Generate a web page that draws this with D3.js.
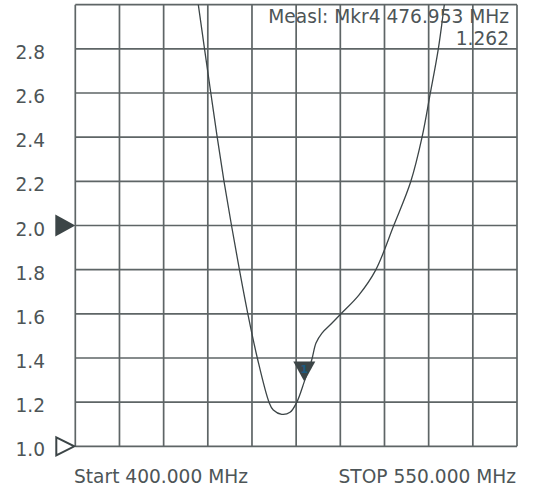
<!DOCTYPE html>
<html>
<head>
<meta charset="utf-8">
<script src="https://cdn.jsdelivr.net/npm/d3@7"></script>
<style>
  html, body { margin: 0; padding: 0; background: #ffffff; }
  svg { display: block; }
  text { font-family: "DejaVu Sans", Verdana, sans-serif; }
</style>
</head>
<body>
<svg id="chart" width="534" height="490"></svg>
<script>
// ---- data ----
const freqMHz = [439.5, 441.77, 443.88, 446.02, 448.19, 450.50, 453.05, 455.73, 458.59, 461.81,
                 465.78, 467.24, 470.09, 472.91, 475.19, 477.77, 480.28, 481.74, 483.78, 486.50,
                 490.13, 496.30, 502.00, 508.20, 513.90, 517.74, 520.56, 523.27, 525.31, 527.25];
const vswr    = [3.20, 3.00, 2.80, 2.60, 2.40, 2.20, 2.00, 1.80, 1.60, 1.40,
                 1.20, 1.164, 1.145, 1.154, 1.199, 1.293, 1.391, 1.468, 1.513, 1.549,
                 1.599, 1.685, 1.798, 2.002, 2.198, 2.399, 2.599, 2.799, 2.999, 3.203];
const yTickValues = [1.0, 1.2, 1.4, 1.6, 1.8, 2.0, 2.2, 2.4, 2.6, 2.8, 3.0];
const yTickLabels = ["1.0", "1.2", "1.4", "1.6", "1.8", "2.0", "2.2", "2.4", "2.6", "2.8"];
const xGridValues = [400, 415, 430, 445, 460, 475, 490, 505, 520, 535, 550];
const startLabel = "Start 400.000 MHz";
const stopLabel = "STOP 550.000 MHz";
const markerName = "Mkr4";
const markerFreq = 477.77;      // trace position of marker tip
const markerValue = 1.293;
const markerReadFreq = "476.953";
const markerReadValue = "1.262";
const refLevel = 2.0;
const bottomLevel = 1.0;

// ---- layout ----
const svg = d3.select("#chart");
const pLeft = 75.3, pRight = 517, pTop = 4.7, pBottom = 446.3;
const x = d3.scaleLinear().domain([400, 550]).range([pLeft, pRight]);
const y = d3.scaleLinear().domain([1, 3]).range([pBottom, pTop]);
const gridColor = "#5e6566";
const textColor = "#4d5557";
const darkColor = "#3c4547";
const fs = 18.6;

// grid
const g = svg.append("g");
g.selectAll("line.v").data(xGridValues).enter().append("line")
  .attr("x1", d => x(d)).attr("x2", d => x(d))
  .attr("y1", pTop).attr("y2", pBottom)
  .attr("stroke", gridColor).attr("stroke-width", 1.7);
g.selectAll("line.h").data(yTickValues).enter().append("line")
  .attr("x1", pLeft).attr("x2", pRight)
  .attr("y1", d => y(d)).attr("y2", d => y(d))
  .attr("stroke", gridColor).attr("stroke-width", 1.7);

// y labels
svg.selectAll("text.yl").data(yTickLabels).enter().append("text")
  .attr("x", 45).attr("y", d => y(+d) + 10)
  .attr("text-anchor", "end").attr("font-size", fs).attr("fill", textColor)
  .text(d => d);

// bottom labels
svg.append("text").attr("x", 74).attr("y", 482.7)
  .attr("font-size", fs).attr("fill", textColor).text(startLabel);
svg.append("text").attr("x", 516).attr("y", 482.7).attr("text-anchor", "end")
  .attr("font-size", fs).attr("fill", textColor).text(stopLabel);

// trace
svg.append("clipPath").attr("id", "clip").append("rect")
  .attr("x", pLeft).attr("y", pTop).attr("width", pRight - pLeft).attr("height", pBottom - pTop);
const pts = freqMHz.map((f, i) => [f, vswr[i]]);
const line = d3.line().x(d => x(d[0])).y(d => y(d[1])).curve(d3.curveCatmullRom.alpha(0.5));
svg.append("path").datum(pts)
  .attr("clip-path", "url(#clip)")
  .attr("d", line).attr("fill", "none")
  .attr("stroke", darkColor).attr("stroke-width", 1.3);

// marker readout
svg.append("text").attr("x", 509).attr("y", 22.7).attr("text-anchor", "end")
  .attr("font-size", fs).attr("fill", textColor)
  .text("Measl: " + markerName + " " + markerReadFreq + " MHz");
svg.append("text").attr("x", 509).attr("y", 45).attr("text-anchor", "end")
  .attr("font-size", fs).attr("fill", textColor)
  .text(markerReadValue);

// marker triangle (tip on trace)
const mx = x(markerFreq), my = y(markerValue);
svg.append("path")
  .attr("d", `M${mx - 11},${my - 20} L${mx + 11},${my - 20} L${mx},${my} Z`)
  .attr("fill", darkColor);
svg.append("text").attr("x", mx).attr("y", my - 8.5).attr("text-anchor", "middle")
  .attr("font-size", 11).attr("font-weight", "bold").attr("fill", "#1b5b82").text("1");

// left reference arrows
const ry = y(refLevel);
svg.append("path")
  .attr("d", `M${pLeft - 20},${ry - 11} L${pLeft},${ry} L${pLeft - 20},${ry + 11} Z`)
  .attr("fill", darkColor);
const by = y(bottomLevel);
svg.append("path")
  .attr("d", `M${pLeft - 19},${by - 9} L${pLeft - 1},${by} L${pLeft - 19},${by + 9} Z`)
  .attr("fill", "none").attr("stroke", darkColor).attr("stroke-width", 2);
</script>
</body>
</html>
